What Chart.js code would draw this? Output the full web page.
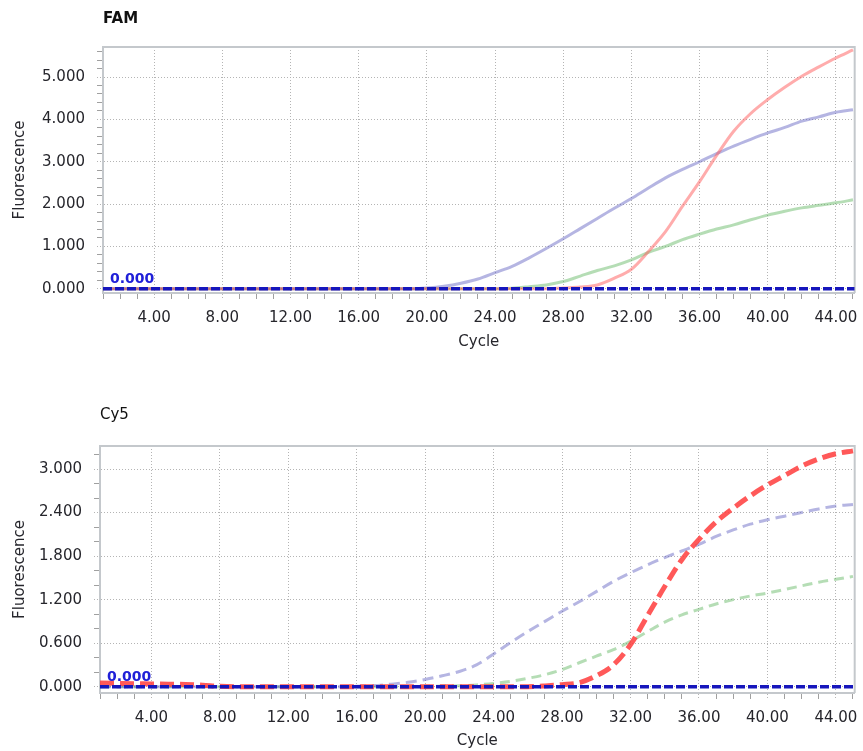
<!DOCTYPE html>
<html>
<head>
<meta charset="utf-8">
<script src="https://cdn.jsdelivr.net/npm/chart.js@4.4.1/dist/chart.umd.min.js"></script>
<style>
  html, body { margin: 0; padding: 0; background: #ffffff; }
  #wrap { position: relative; width: 863px; height: 751px; overflow: hidden; }
  canvas { position: absolute; left: 0; }
  #famCanvas { top: 0; }
  #cy5Canvas { top: 375px; }
</style>
</head>
<body>
<div id="wrap">
  <canvas id="famCanvas" width="863" height="375"></canvas>
  <canvas id="cy5Canvas" width="863" height="376"></canvas>
</div>
<script>
// Amplification cycles
const cycles = [1,2,3,4,5,6,7,8,9,10,11,12,13,14,15,16,17,18,19,20,21,22,23,24,25,26,27,28,29,30,31,32,33,34,35,36,37,38,39,40,41,42,43,44,45];

// FAM channel fluorescence per cycle
const famRed = [0,0,0,0,0,0,0,0,0,0,0,0,0,0,0,0,0,0,0,0,0,0,0,0,0,0,0,
  0.02,0.04,0.09,0.25,0.46,0.88,1.35,1.95,2.53,3.15,3.72,4.14,4.47,4.76,5.02,5.24,5.45,5.64];
const famPurple = [0,0,0,0,0,0,0,0,0,0,0,0,0,0,0,0,0,0,0,
  0.02,0.06,0.13,0.23,0.38,0.53,0.73,0.95,1.18,1.42,1.66,1.90,2.13,2.38,2.62,2.82,3.00,3.19,3.37,3.53,3.68,3.81,3.96,4.06,4.17,4.23];
const famGreen = [0,0,0,0,0,0,0,0,0,0,0,0,0,0,0,0,0,0,0,0,0,0,0,0,
  0.015,0.05,0.09,0.17,0.30,0.43,0.54,0.68,0.86,1.00,1.16,1.29,1.41,1.51,1.63,1.74,1.83,1.91,1.97,2.03,2.10];

// Cy5 channel fluorescence per cycle
const cy5Red = [0.05,0.045,0.04,0.038,0.035,0.03,0.02,0.005,0,0,0,0,0,0,0,0,0,0,0,0,0,0,0,0,0,0,
  0.01,0.028,0.055,0.15,0.30,0.58,0.98,1.38,1.75,2.03,2.27,2.46,2.63,2.78,2.91,3.04,3.14,3.21,3.25];
const cy5Purple = [0,0,0,0,0,0,0,0,0,0,0,0,0,0,0,
  0.005,0.015,0.035,0.06,0.10,0.15,0.21,0.30,0.45,0.61,0.76,0.90,1.04,1.17,1.31,1.45,1.57,1.68,1.78,1.87,1.96,2.07,2.16,2.24,2.30,2.35,2.40,2.45,2.49,2.51];
const cy5Green = [0,0,0,0,0,0,0,0,0,0,0,0,0,0,0,0,0,0,0,
  0.005,0.008,0.012,0.025,0.045,0.073,0.115,0.165,0.235,0.33,0.42,0.51,0.625,0.76,0.89,0.99,1.065,1.14,1.20,1.25,1.29,1.34,1.39,1.44,1.48,1.52];

// Thresholds
const famThreshold = 0;
const cy5Threshold = 0;

// Axis ticks
const cycleLabels = [4, 8, 12, 16, 20, 24, 28, 32, 36, 40, 44];   // labelled cycles
const famYLabels = [0, 1, 2, 3, 4, 5];
const cy5YLabels = [0, 0.6, 1.2, 1.8, 2.4, 3.0];
const cycleRange = [1, 45.1];
const famRange = [-0.1, 5.71];
const cy5Range = [-0.087, 3.317];

const FONT = 'DejaVu Sans';
const TEXT = '#26262c';
const GRID = '#b4b4b4';
const FRAME = '#c4c8cc';

function minorSteps(from, to, step) {
  const out = [];
  for (let k = Math.ceil(from / step - 1e-9); k * step <= to + 1e-9; k++) {
    out.push(Math.round(k * step * 1e6) / 1e6);
  }
  return out;
}
function isMajor(v, majors) {
  return majors.some(m => Math.abs(m - v) < 1e-6);
}

// top and right edges of the plot frame
const framePlugin = {
  id: 'frame',
  beforeDatasetsDraw(chart) {
    const {ctx, chartArea: a} = chart;
    ctx.save();
    ctx.strokeStyle = FRAME;
    ctx.lineWidth = 2;
    ctx.beginPath();
    ctx.moveTo(a.left, a.top);
    ctx.lineTo(a.right, a.top);
    ctx.lineTo(a.right, a.bottom);
    ctx.stroke();
    ctx.restore();
  }
};

// value label written above the threshold line
const thresholdLabelPlugin = {
  id: 'thresholdLabel',
  afterDatasetsDraw(chart, args, opts) {
    const {ctx, chartArea: a, scales} = chart;
    const y = scales.y.getPixelForValue(opts.value);
    ctx.save();
    ctx.font = 'bold 14px "' + FONT + '"';
    ctx.fillStyle = '#2020d8';
    ctx.textAlign = 'left';
    ctx.textBaseline = 'bottom';
    ctx.fillText(opts.value.toFixed(3), a.left + opts.dx, y - 2);
    ctx.restore();
  }
};

function buildChart(canvasId, cfg) {
  const yMinor = minorSteps(cfg.yRange[0], cfg.yRange[1], 0.2);
  const xMinor = minorSteps(cycleRange[0], cycleRange[1], 1);
  const thresholdSet = {
    data: [{x: cycleRange[0], y: cfg.threshold}, {x: cycleRange[1], y: cfg.threshold}],
    borderColor: '#1616bc',
    borderWidth: 3.5,
    borderDash: [9, 3],
    pointRadius: 0,
    tension: 0
  };
  const curves = cfg.series.map(s => ({
    data: cycles.map((c, i) => ({x: c, y: s.values[i]})),
    borderColor: s.color,
    borderWidth: s.width,
    borderDash: s.dash || [],
    pointRadius: 0,
    cubicInterpolationMode: 'monotone'
  }));
  return new Chart(document.getElementById(canvasId), {
    type: 'line',
    data: { datasets: [thresholdSet, ...curves] },
    options: {
      responsive: false,
      animation: false,
      devicePixelRatio: 1,
      layout: { padding: { left: 0, right: cfg.padRight, top: 0, bottom: 0 } },
      plugins: {
        legend: { display: false },
        tooltip: { enabled: false },
        title: {
          display: true,
          text: cfg.title,
          align: 'start',
          fullSize: false,
          color: '#111',
          font: { family: FONT, size: 15, weight: cfg.titleWeight, lineHeight: 1.2 },
          padding: cfg.titlePad
        },
        thresholdLabel: { value: cfg.threshold, dx: cfg.labelDx }
      },
      scales: {
        x: {
          type: 'linear',
          min: cycleRange[0],
          max: cycleRange[1],
          afterBuildTicks: sc => { sc.ticks = xMinor.map(v => ({value: v})); },
          afterFit: sc => { sc.height = cfg.xAxisHeight; },
          ticks: {
            autoSkip: false, maxRotation: 0, minRotation: 0, padding: 10,
            color: TEXT, font: { family: FONT, size: 15 },
            callback: v => isMajor(v, cycleLabels) ? v.toFixed(2) : ''
          },
          grid: {
            tickLength: 6,
            color: c => (c.tick && isMajor(c.tick.value, cycleLabels)) ? GRID : 'rgba(0,0,0,0)',
            tickColor: c => (c.tick && isMajor(c.tick.value, cycleLabels)) ? GRID : '#a0a0a0',
            tickBorderDash: c => (c.tick && isMajor(c.tick.value, cycleLabels)) ? [1, 2] : []
          },
          border: { display: true, color: FRAME, width: 2, dash: [1, 2] },
          title: {
            display: true, text: 'Cycle', color: TEXT,
            font: { family: FONT, size: 15, lineHeight: 1.2 },
            padding: { top: 0, bottom: cfg.xTitleBottom }
          }
        },
        y: {
          type: 'linear',
          min: cfg.yRange[0],
          max: cfg.yRange[1],
          afterBuildTicks: sc => { sc.ticks = yMinor.map(v => ({value: v})); },
          afterFit: sc => { sc.width = cfg.yAxisWidth; },
          ticks: {
            autoSkip: false, padding: 12,
            color: TEXT, font: { family: FONT, size: 15 },
            callback: v => isMajor(v, cfg.yLabels) ? v.toFixed(3) : ''
          },
          grid: {
            tickLength: 6,
            color: c => (c.tick && isMajor(c.tick.value, cfg.yLabels)) ? GRID : 'rgba(0,0,0,0)',
            tickColor: c => (c.tick && isMajor(c.tick.value, cfg.yLabels)) ? GRID : '#a0a0a0',
            tickBorderDash: c => (c.tick && isMajor(c.tick.value, cfg.yLabels)) ? [1, 2] : []
          },
          border: { display: true, color: FRAME, width: 2, dash: [1, 2] },
          title: {
            display: true, text: 'Fluorescence', color: TEXT,
            font: { family: FONT, size: 15, lineHeight: 1.2 },
            padding: { top: 11, bottom: 0 }
          }
        }
      }
    },
    plugins: [framePlugin, thresholdLabelPlugin]
  });
}

// FAM: solid curves
buildChart('famCanvas', {
  title: 'FAM', titleWeight: 'bold', titlePad: { top: 10.5, bottom: 18.5 },
  threshold: famThreshold, labelDx: 7,
  yRange: famRange, yLabels: famYLabels,
  padRight: 3, yAxisWidth: 103, xAxisHeight: 82, xTitleBottom: 24,
  series: [
    { values: famRed,    color: 'rgba(255, 90, 90, 0.5)',  width: 3 },
    { values: famPurple, color: 'rgba(90, 90, 190, 0.45)', width: 3 },
    { values: famGreen,  color: 'rgba(90, 180, 90, 0.45)', width: 3 }
  ]
});

// Cy5: dashed curves
buildChart('cy5Canvas', {
  title: 'Cy5', titleWeight: 'normal', titlePad: { top: 31, bottom: 22 },
  threshold: cy5Threshold, labelDx: 7,
  yRange: cy5Range, yLabels: cy5YLabels,
  padRight: 5, yAxisWidth: 100, xAxisHeight: 58, xTitleBottom: 1,
  series: [
    { values: cy5Red,    color: 'rgba(255, 60, 60, 0.85)', width: 5, dash: [14, 6] },
    { values: cy5Purple, color: 'rgba(90, 90, 190, 0.45)', width: 3, dash: [11, 6] },
    { values: cy5Green,  color: 'rgba(90, 180, 90, 0.45)', width: 3, dash: [10, 6] }
  ]
});
</script>
</body>
</html>
